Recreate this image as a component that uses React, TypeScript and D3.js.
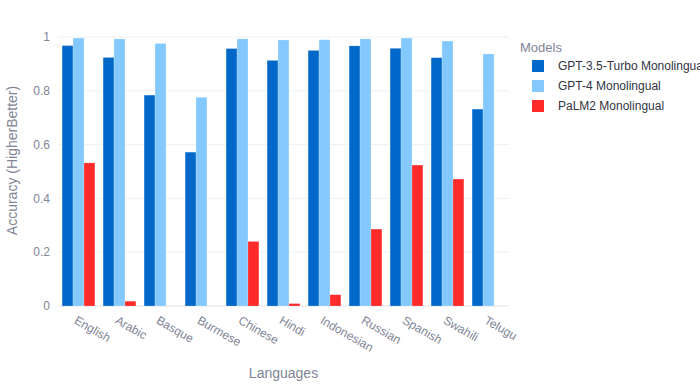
import React from 'react';
import * as d3 from 'd3';

const languages = ['English', 'Arabic', 'Basque', 'Burmese', 'Chinese', 'Hindi', 'Indonesian', 'Russian', 'Spanish', 'Swahili', 'Telugu'];
const models = ['GPT-3.5-Turbo Monolingual', 'GPT-4 Monolingual', 'PaLM2 Monolingual'];
const gpt35 = [0.968, 0.924, 0.784, 0.572, 0.957, 0.913, 0.95, 0.967, 0.958, 0.923, 0.732];
const gpt4 = [0.996, 0.993, 0.976, 0.776, 0.993, 0.989, 0.99, 0.993, 0.996, 0.985, 0.937];
const palm2 = [0.532, 0.018, 0, 0, 0.24, 0.009, 0.042, 0.286, 0.524, 0.472, 0];
const yTicks = [0, 0.2, 0.4, 0.6, 0.8, 1];
const colors = ['#0068c9', '#83c9ff', '#ff2b2b'];

const W = 700;
const H = 387;
const margin = { top: 37, right: 191, bottom: 81, left: 58 };
const font = '"Liberation Sans", Arial, sans-serif';
const tickColor = '#808495';

export default function App() {
  const iw = W - margin.left - margin.right;
  const ih = H - margin.top - margin.bottom;
  const series = [gpt35, gpt4, palm2];

  const x = d3.scaleBand().domain(languages).range([0, iw]).paddingInner(0.2).paddingOuter(0.1);
  const x1 = d3.scaleBand().domain(models).range([0, x.bandwidth()]);
  const y = d3.scaleLinear().domain([0, 1]).range([ih, 0]);

  return (
    <svg width={W} height={H} style={{ position: 'absolute', left: 0, top: 0, background: '#fff' }} fontFamily={font}>
      <g transform={`translate(${margin.left},${margin.top})`}>
        {/* grid */}
        {yTicks.map(t => (
          <g key={t}>
            <line x1={0} x2={iw} y1={y(t)} y2={y(t)} stroke="#eef0f4" strokeWidth={t === 0 ? 2 : 1} />
            <text x={-8} y={y(t)} dy="0.35em" textAnchor="end" fontSize={12} fill={tickColor}>{t}</text>
          </g>
        ))}
        {/* bars */}
        {languages.map((lang, i) => (
          <g key={lang} transform={`translate(${x(lang)},0)`}>
            {models.map((m, j) => {
              const v = series[j][i];
              if (!v) return null;
              return (
                <rect key={m} x={x1(m)} y={y(v)} width={x1.bandwidth()} height={ih - y(v)}
                  fill={colors[j]} stroke="rgba(255,255,255,0.4)" strokeWidth={0.5} />
              );
            })}
          </g>
        ))}
        {/* x tick labels */}
        {languages.map(lang => (
          <text key={lang} transform={`translate(${(x(lang) as number) + x.bandwidth() / 2 - 3},${ih + 13}) rotate(30)`}
            fontSize={12} fill={tickColor} dy="0.35em">{lang}</text>
        ))}
        <text x={iw / 2} y={ih + 72} textAnchor="middle" fontSize={14} fill={tickColor}>Languages</text>
        <text transform={`translate(${-41},${ih / 2 - 11}) rotate(-90)`} textAnchor="middle" fontSize={14} fill={tickColor}>Accuracy (HigherBetter)</text>
      </g>
      {/* legend */}
      <g transform="translate(520,47)">
        <text x={0} y={0} dy="0.35em" fontSize={13} fill={tickColor}>Models</text>
        {models.map((m, j) => (
          <g key={m} transform={`translate(0,${19 + j * 20})`}>
            <rect x={12} y={-6} width={12} height={12} fill={colors[j]} />
            <text x={38} y={0} dy="0.35em" fontSize={12} fill="#31333f">{m}</text>
          </g>
        ))}
      </g>
    </svg>
  );
}
